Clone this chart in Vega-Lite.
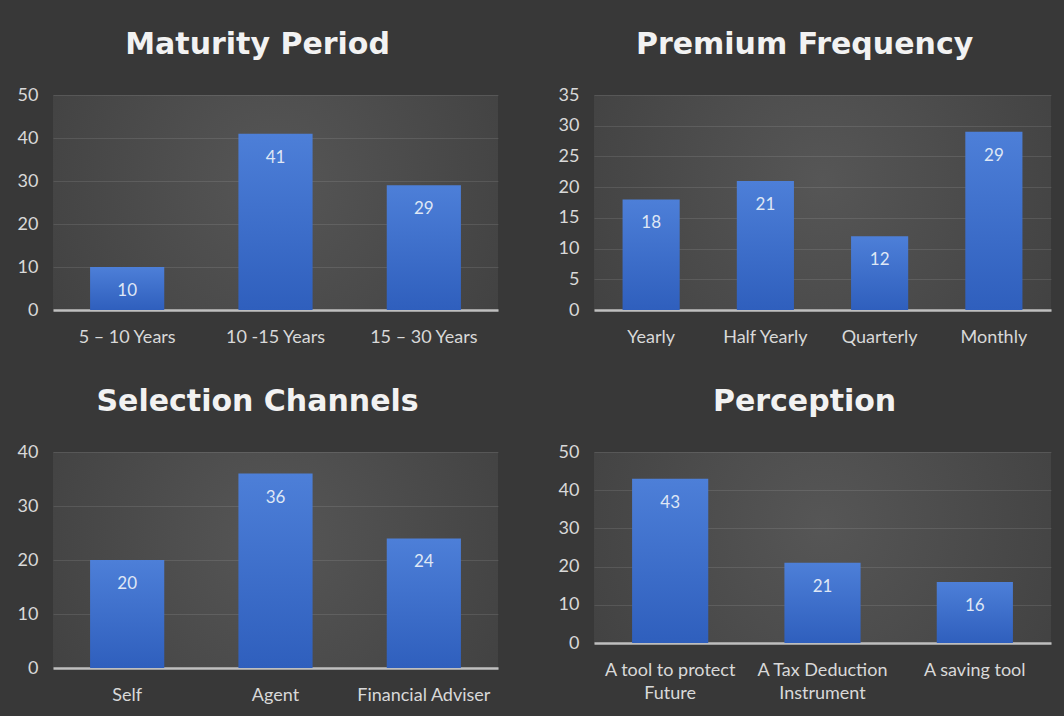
{
  "$schema": "https://vega.github.io/schema/vega-lite/v6.json",
  "background": "#383838",
  "padding": {"left": 17, "top": 30, "right": 14, "bottom": 14},
  "datasets": {
    "maturity": [
      {"category": "5 – 10 Years", "value": 10},
      {"category": "10 -15 Years", "value": 41},
      {"category": "15 – 30 Years", "value": 29}
    ],
    "premium": [
      {"category": "Yearly", "value": 18},
      {"category": "Half Yearly", "value": 21},
      {"category": "Quarterly", "value": 12},
      {"category": "Monthly", "value": 29}
    ],
    "selection": [
      {"category": "Self", "value": 20},
      {"category": "Agent", "value": 36},
      {"category": "Financial Adviser", "value": 24}
    ],
    "perception": [
      {"category": "A tool to protect Future", "value": 43},
      {"category": "A Tax Deduction Instrument", "value": 21},
      {"category": "A saving tool", "value": 16}
    ]
  },
  "spacing": 41,
  "vconcat": [
    {
      "spacing": 60,
      "hconcat": [
        {
          "title": "Maturity Period",
          "width": 445,
          "height": 215,
          "data": {"name": "maturity"},
          "encoding": {
            "x": {"field": "category", "type": "nominal", "sort": null, "scale": {"paddingInner": 0.5, "paddingOuter": 0.25}, "axis": {"title": null, "labelAngle": 0}},
            "y": {"field": "value", "type": "quantitative", "scale": {"domain": [0, 50]}, "axis": {"title": null, "values": [0, 10, 20, 30, 40, 50]}}
          },
          "layer": [
            {"mark": {"type": "bar", "color": {"gradient": "linear", "x1": 0, "y1": 0, "x2": 0, "y2": 1, "stops": [{"offset": 0, "color": "#4d7fd8"}, {"offset": 1, "color": "#2f5fbd"}]}}},
            {"mark": {"type": "text", "baseline": "middle", "dy": 24, "fontSize": 17, "font": "Lato", "color": "#dfe7f5"}, "encoding": {"text": {"field": "value", "type": "quantitative"}}}
          ]
        },
        {
          "title": "Premium Frequency",
          "width": 457,
          "height": 215,
          "data": {"name": "premium"},
          "encoding": {
            "x": {"field": "category", "type": "nominal", "sort": null, "scale": {"paddingInner": 0.5, "paddingOuter": 0.25}, "axis": {"title": null, "labelAngle": 0}},
            "y": {"field": "value", "type": "quantitative", "scale": {"domain": [0, 35]}, "axis": {"title": null, "values": [0, 5, 10, 15, 20, 25, 30, 35]}}
          },
          "layer": [
            {"mark": {"type": "bar", "color": {"gradient": "linear", "x1": 0, "y1": 0, "x2": 0, "y2": 1, "stops": [{"offset": 0, "color": "#4d7fd8"}, {"offset": 1, "color": "#2f5fbd"}]}}},
            {"mark": {"type": "text", "baseline": "middle", "dy": 24, "fontSize": 17, "font": "Lato", "color": "#dfe7f5"}, "encoding": {"text": {"field": "value", "type": "quantitative"}}}
          ]
        }
      ]
    },
    {
      "spacing": 60,
      "hconcat": [
        {
          "title": "Selection Channels",
          "width": 445,
          "height": 216,
          "data": {"name": "selection"},
          "encoding": {
            "x": {"field": "category", "type": "nominal", "sort": null, "scale": {"paddingInner": 0.5, "paddingOuter": 0.25}, "axis": {"title": null, "labelAngle": 0}},
            "y": {"field": "value", "type": "quantitative", "scale": {"domain": [0, 40]}, "axis": {"title": null, "values": [0, 10, 20, 30, 40]}}
          },
          "layer": [
            {"mark": {"type": "bar", "color": {"gradient": "linear", "x1": 0, "y1": 0, "x2": 0, "y2": 1, "stops": [{"offset": 0, "color": "#4d7fd8"}, {"offset": 1, "color": "#2f5fbd"}]}}},
            {"mark": {"type": "text", "baseline": "middle", "dy": 24, "fontSize": 17, "font": "Lato", "color": "#dfe7f5"}, "encoding": {"text": {"field": "value", "type": "quantitative"}}}
          ]
        },
        {
          "title": "Perception",
          "width": 457,
          "height": 191,
          "data": {"name": "perception"},
          "encoding": {
            "x": {"field": "category", "type": "nominal", "sort": null, "scale": {"paddingInner": 0.5, "paddingOuter": 0.25}, "axis": {"title": null, "labelAngle": 0, "labelLineHeight": 23, "labelExpr": "datum.value == 'A tool to protect Future' ? ['A tool to protect', 'Future'] : datum.value == 'A Tax Deduction Instrument' ? ['A Tax Deduction', 'Instrument'] : datum.label"}},
            "y": {"field": "value", "type": "quantitative", "scale": {"domain": [0, 50]}, "axis": {"title": null, "values": [0, 10, 20, 30, 40, 50]}}
          },
          "layer": [
            {"mark": {"type": "bar", "color": {"gradient": "linear", "x1": 0, "y1": 0, "x2": 0, "y2": 1, "stops": [{"offset": 0, "color": "#4d7fd8"}, {"offset": 1, "color": "#2f5fbd"}]}}},
            {"mark": {"type": "text", "baseline": "middle", "dy": 24, "fontSize": 17, "font": "Lato", "color": "#dfe7f5"}, "encoding": {"text": {"field": "value", "type": "quantitative"}}}
          ]
        }
      ]
    }
  ],
  "config": {
    "view": {"stroke": null, "fill": {"gradient": "radial", "x1": 0.5, "y1": 0.45, "r1": 0, "x2": 0.5, "y2": 0.45, "r2": 0.75, "stops": [{"offset": 0, "color": "#565656"}, {"offset": 1, "color": "#3c3c3c"}]}},
    "font": "Lato",
    "title": {"fontSize": 30, "fontWeight": "bold", "font": "DejaVu Sans", "color": "#f2f2f2", "anchor": "middle", "frame": "bounds", "offset": 26},
    "axis": {"labelFont": "Lato", "labelFontSize": 18, "labelColor": "#d9d9d9", "ticks": false, "gridColor": "#ffffff", "gridOpacity": 0.1, "gridWidth": 1},
    "axisX": {"domainColor": "#bfbfbf", "domainWidth": 2.5, "labelPadding": 18, "grid": false},
    "axisY": {"domain": false, "labelPadding": 15}
  }
}
